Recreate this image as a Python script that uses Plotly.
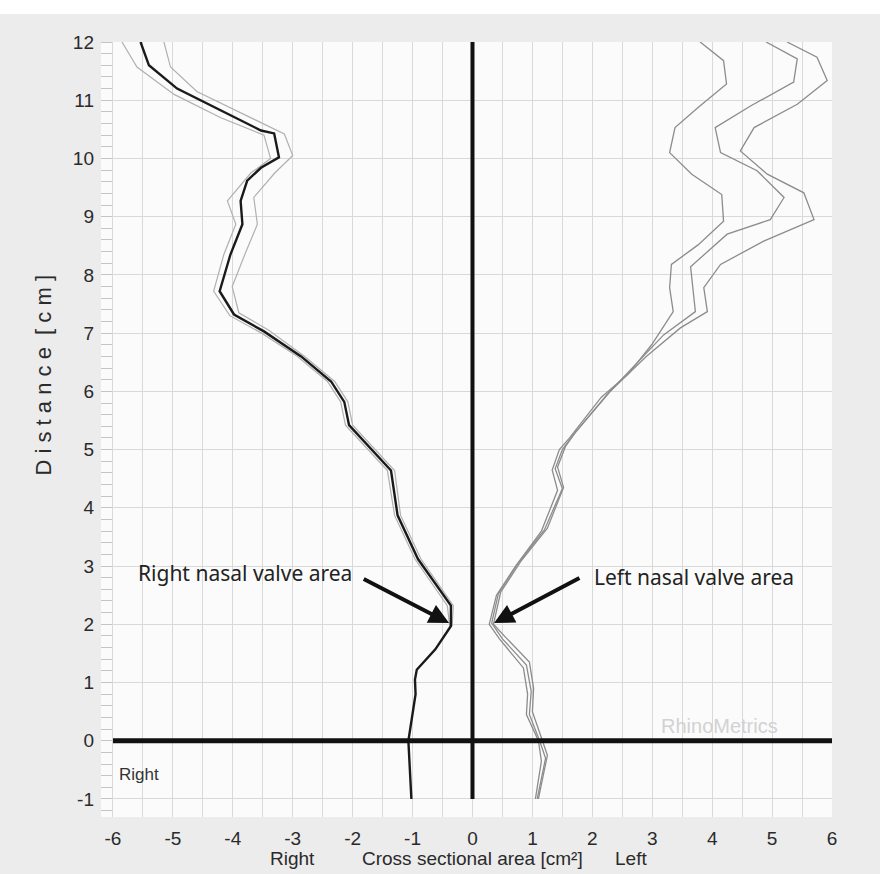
import plotly.graph_objects as go

# ---------------- data ----------------
# Right side (negative area), dark mean curve
right_dark_x = [-5.54, -5.40, -4.93, -4.48, -3.53, -3.31, -3.23, -3.53, -3.76, -3.87, -3.84, -4.04, -4.22,
                -3.98, -3.48, -2.86, -2.36, -2.14, -2.06, -1.36, -1.25, -0.91, -0.36, -0.36, -0.62, -0.93,
                -0.96, -0.95, -1.07, -1.02]
right_dark_y = [12.0, 11.6, 11.2, 10.97, 10.48, 10.43, 10.02, 9.84, 9.62, 9.27, 8.87, 8.35, 7.72,
                7.32, 7.03, 6.6, 6.17, 5.82, 5.42, 4.64, 3.87, 3.12, 2.32, 1.97, 1.57, 1.22,
                1.05, 0.8, 0.0, -1.0]

# Right side, light grey curves
right_outer_x = [-5.85, -5.60, -4.98, -4.20, -3.48, -3.37, -3.70, -4.09, -3.95, -4.15, -4.32, -4.05, -3.52,
                 -2.92, -2.42, -2.20, -2.12, -1.42, -1.30, -0.96, -0.42, -0.38]
right_outer_y = [12.0, 11.57, 11.1, 10.7, 10.4, 10.0, 9.75, 9.27, 8.87, 8.35, 7.72, 7.3, 7.0,
                 6.6, 6.17, 5.82, 5.42, 4.64, 3.87, 3.12, 2.32, 1.97]
right_inner_x = [-5.15, -5.04, -4.60, -3.90, -3.14, -3.00, -3.30, -3.65, -3.59, -3.80, -4.01, -3.90, -3.40,
                 -2.80, -2.30, -2.08, -2.00, -1.30, -1.20, -0.86, -0.32, -0.34]
right_inner_y = [12.0, 11.57, 11.15, 10.8, 10.42, 10.05, 9.75, 9.33, 8.87, 8.35, 7.8, 7.35, 7.05,
                 6.6, 6.17, 5.82, 5.42, 4.64, 3.87, 3.12, 2.32, 1.97]

# Left side (positive area), three grey curves
left1_x = [3.80, 4.19, 4.24, 3.77, 3.38, 3.29, 3.66, 4.16, 4.19, 3.77, 3.32, 3.29, 3.35, 2.99, 2.60, 2.15,
           1.62, 1.45, 1.33, 1.42, 1.15, 0.72, 0.40, 0.28, 0.45, 0.85, 0.92, 0.90, 1.10, 1.15, 1.05]
left1_y = [12.0, 11.68, 11.28, 10.88, 10.53, 10.1, 9.73, 9.38, 8.92, 8.52, 8.18, 7.78, 7.37, 6.8, 6.3, 5.9,
           5.2, 5.0, 4.65, 4.3, 3.6, 3.0, 2.5, 2.0, 1.75, 1.25, 0.8, 0.45, 0.0, -0.35, -1.0]
left2_x = [4.90, 5.42, 5.36, 4.64, 4.05, 4.14, 4.75, 5.20, 4.97, 4.25, 3.64, 3.72, 3.19, 2.75, 2.25,
           1.68, 1.50, 1.38, 1.50, 1.20, 0.76, 0.43, 0.32, 0.50, 0.90, 0.98, 0.95, 1.12, 1.22, 1.08]
left2_y = [12.0, 11.71, 11.31, 10.9, 10.53, 10.1, 9.79, 9.33, 8.95, 8.7, 8.14, 7.37, 6.97, 6.5, 5.95,
           5.25, 5.0, 4.67, 4.33, 3.62, 3.05, 2.52, 2.02, 1.75, 1.3, 0.85, 0.45, 0.0, -0.3, -1.0]
left3_x = [5.25, 5.75, 5.92, 5.42, 4.70, 4.47, 4.92, 5.53, 5.70, 4.86, 4.14, 3.86, 3.92, 3.47, 2.90, 2.30,
           1.72, 1.55, 1.42, 1.52, 1.25, 0.82, 0.47, 0.35, 0.55, 0.95, 1.02, 1.00, 1.15, 1.25, 1.10]
left3_y = [12.0, 11.74, 11.34, 10.93, 10.53, 10.13, 9.73, 9.41, 8.95, 8.58, 8.18, 7.78, 7.37, 7.09, 6.6, 6.0,
           5.3, 5.05, 4.7, 4.35, 3.65, 3.1, 2.55, 2.0, 1.78, 1.35, 0.9, 0.5, 0.05, -0.25, -1.0]

x_ticks = [-6, -5, -4, -3, -2, -1, 0, 1, 2, 3, 4, 5, 6]
x_tick_text = ["-6", "-5", "-4", "-3", "-2", "-1", "0", "1", "2", "3", "4", "5", "6"]
y_ticks = [-1, 0, 1, 2, 3, 4, 5, 6, 7, 8, 9, 10, 11, 12]
y_tick_text = ["-1", "0", "1", "2", "3", "4", "5", "6", "7", "8", "9", "10", "11", "12"]

# annotation anchor points (data units)
right_valve = (-0.39, 2.02)
right_valve_tail = (-1.84, 2.79)
left_valve = (0.36, 2.02)
left_valve_tail = (1.81, 2.81)

# ---------------- figure ----------------
fig = go.Figure()

grey = "#8c8c8c"
lgrey = "#b0b0b0"
for xs, ys in [(left1_x, left1_y), (left2_x, left2_y), (left3_x, left3_y)]:
    fig.add_trace(go.Scatter(x=xs, y=ys, mode="lines", line=dict(color=grey, width=1.3),
                             showlegend=False, hoverinfo="skip"))
for xs, ys in [(right_outer_x, right_outer_y), (right_inner_x, right_inner_y)]:
    fig.add_trace(go.Scatter(x=xs, y=ys, mode="lines", line=dict(color=lgrey, width=1.2),
                             showlegend=False, hoverinfo="skip"))
fig.add_trace(go.Scatter(x=right_dark_x, y=right_dark_y, mode="lines",
                         line=dict(color="#1a1a1a", width=2.4), showlegend=False, hoverinfo="skip"))

# heavy reference axes
fig.add_shape(type="line", xref="x", yref="y", x0=-6, x1=6, y0=0, y1=0,
              line=dict(color="#111111", width=5), layer="above")
fig.add_shape(type="line", xref="x", yref="y", x0=0, x1=0, y0=-1, y1=12,
              line=dict(color="#111111", width=4), layer="above")
# white strip at the very top of the photo
fig.add_shape(type="rect", xref="paper", yref="paper", x0=-0.2, x1=1.2, y0=1.036, y1=1.1,
              line=dict(width=0), fillcolor="white", layer="below")

tick_font = dict(family="Liberation Sans, Arial, sans-serif", size=19, color="#2a2a2a")

fig.update_xaxes(range=[-6.2, 6], tickvals=x_ticks, ticktext=x_tick_text,
                 showgrid=True, gridcolor="#d9d9d9", gridwidth=1,
                 minor=dict(dtick=0.5, tick0=0, showgrid=True, gridcolor="#d9d9d9", gridwidth=1),
                 zeroline=False, showline=False, ticks="", tickfont=tick_font, ticklabelstandoff=8,
                 fixedrange=True)
fig.update_yaxes(range=[-1.31, 12], tickvals=y_ticks, ticktext=y_tick_text,
                 showgrid=True, gridcolor="#d9d9d9", gridwidth=1,
                 minor=dict(dtick=0.2, tick0=0, ticks="inside", ticklen=11, tickcolor="#c4c4c4",
                            showgrid=False),
                 zeroline=False, showline=False, ticks="", tickfont=tick_font, ticklabelstandoff=6,
                 fixedrange=True)

ann_font = dict(family="Noto Sans, sans-serif", size=21, color="#222222")
annotations = [
    dict(x=right_valve[0], y=right_valve[1], ax=right_valve_tail[0], ay=right_valve_tail[1],
         xref="x", yref="y", axref="x", ayref="y", text="", showarrow=True,
         arrowhead=2, arrowsize=1.0, arrowwidth=4, arrowcolor="#111111"),
    dict(x=left_valve[0], y=left_valve[1], ax=left_valve_tail[0], ay=left_valve_tail[1],
         xref="x", yref="y", axref="x", ayref="y", text="", showarrow=True,
         arrowhead=2, arrowsize=1.0, arrowwidth=4, arrowcolor="#111111"),
    dict(x=-3.80, y=2.88, xref="x", yref="y", text="Right nasal valve area", showarrow=False,
         font=ann_font, xanchor="center", yanchor="middle"),
    dict(x=3.70, y=2.81, xref="x", yref="y", text="Left nasal valve area", showarrow=False,
         font=ann_font, xanchor="center", yanchor="middle"),
    dict(x=-5.93, y=-0.58, xref="x", yref="y", text="Right", showarrow=False,
         font=dict(family="Liberation Sans, Arial, sans-serif", size=17, color="#333333"),
         xanchor="left", yanchor="middle"),
    dict(x=4.12, y=0.26, xref="x", yref="y", text="RhinoMetrics", showarrow=False,
         font=dict(family="Liberation Sans, Arial, sans-serif", size=20, color="#d2d2d2"),
         xanchor="center", yanchor="middle"),
    dict(x=-3.0, y=-0.053, xref="x", yref="paper", text="Right", showarrow=False,
         font=tick_font, xanchor="center", yanchor="middle"),
    dict(x=0.0, y=-0.053, xref="x", yref="paper", text="Cross sectional area [cm²]", showarrow=False,
         font=tick_font, xanchor="center", yanchor="middle"),
    dict(x=2.65, y=-0.053, xref="x", yref="paper", text="Left", showarrow=False,
         font=tick_font, xanchor="center", yanchor="middle"),
    dict(x=-0.079, y=0.57, xref="paper", yref="paper", text="D i s t a n c e  [ c m ]",
         showarrow=False, textangle=-90,
         font=dict(family="Liberation Sans, Arial, sans-serif", size=22, color="#2a2a2a"),
         xanchor="center", yanchor="middle"),
]

fig.update_layout(
    width=880, height=874,
    margin=dict(l=101, r=48, t=42, b=57),
    paper_bgcolor="#ececec",
    plot_bgcolor="#fbfbfb",
    annotations=annotations,
    showlegend=False,
)

fig.write_html("out.html")
